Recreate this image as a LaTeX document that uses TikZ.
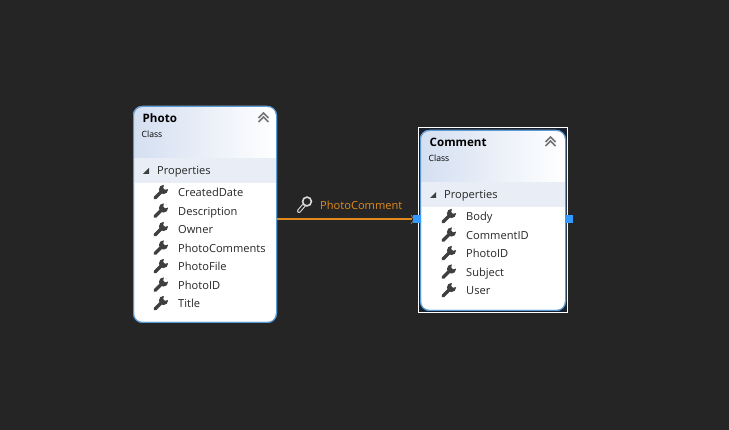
\documentclass[tikz,border=0pt]{standalone}
\usepackage{fontspec}
\setmainfont{Open Sans}
\usetikzlibrary{positioning, arrows.meta}
\definecolor{canvas}{HTML}{252526}
\definecolor{frameblue}{HTML}{5B9BD5}
\definecolor{headblue}{HTML}{D4DFF1}
\definecolor{bandgrey}{HTML}{E9EDF6}
\definecolor{toolgrey}{HTML}{3F3F3F}
\definecolor{linkorange}{HTML}{E08A1E}
\definecolor{handleblue}{HTML}{3399FF}
\definecolor{selectnavy}{HTML}{16202E}
\def\pitch{18.5}
% wrench icon, #1 = centre
\newcommand{\wrenchicon}[1]{
	\begin{scope}[shift={(#1)}]
		\draw[toolgrey, line width=3.2, line cap=round] (-5.5,5.5) -- (2,-2);
		\fill[toolgrey] (3,-3) circle (4.6);
		\fill[white] (3.8,-8.6) -- (8.8,-3.8) -- (4.6,-2.8) -- (2.8,-4.6) -- cycle;
	\end{scope}
}
% class box: #1 name, #2 left, #3 top, #4 width, #5 height, #6 title
\newcommand{\classbox}[6]{
	\node[classframe, fill=white, minimum width=#4, minimum height=#5] (#1) at (#2,#3) {};
	\begin{scope}
		\clip[rounded corners=9] (#2,#3) rectangle ++(#4,#5);
		\fill[left color=headblue, right color=white] (#2,#3) rectangle ++(#4,52);
		\fill[bandgrey] (#2,#3+52) rectangle ++(#4,25);
	\end{scope}
	\node[classframe, minimum width=#4, minimum height=#5] at (#2,#3) {};
	\node[classtitle] (#1-title) at (#2+9.5,#3+17) {#6};
	\node[classkind] (#1-kind) at (#2+8.5,#3+31.5) {Class};
	\node[rowlabel] (#1-band) at (#2+24,#3+69) {Properties};
	\fill[toolgrey] (#2+10,#3+68) -- (#2+16,#3+68) -- (#2+16,#3+62) -- cycle;
	\draw[black!55, line width=1.5] (#2+125.5,#3+12) -- (#2+130.5,#3+7) -- (#2+135.5,#3+12);
	\draw[black!55, line width=1.5] (#2+125.5,#3+16) -- (#2+130.5,#3+11) -- (#2+135.5,#3+16);
}
\begin{document}
\begin{tikzpicture}[x=1pt, y=-1pt]
	\tikzstyle{classframe}=[draw=frameblue, line width=1pt, rounded corners=9, anchor=north west, inner sep=0pt]
	\tikzstyle{classtitle}=[anchor=base west, inner sep=0pt, font=\fontsize{11.6}{14}\selectfont\bfseries, text=black]
	\tikzstyle{classkind}=[anchor=base west, inner sep=0pt, font=\fontsize{8.6}{11}\selectfont, text=black]
	\tikzstyle{rowlabel}=[anchor=base west, inner sep=0pt, font=\fontsize{11.1}{13}\selectfont, text=black!85]
	\tikzstyle{handle}=[fill=handleblue, inner sep=0pt, minimum size=8]

	\fill[canvas] (0,0) rectangle (729,430);
	\useasboundingbox (0,0) rectangle (729,430);

	% Selection frame of the second class
	\node[draw=white, fill=selectnavy, line width=1pt, anchor=north west, inner sep=0pt, minimum width=149, minimum height=185] (selection) at (418,127) {};

	% Draw the classes
	\classbox{photo}{133}{106}{143}{216}{Photo}
	\classbox{comment}{420}{130}{145}{180}{Comment}

	% Draw the property rows, \y contains the offset of the row
	\foreach \name [count=\y from 0] in {CreatedDate,Description,Owner,PhotoComments,PhotoFile,PhotoID,Title} {
		\wrenchicon{160.5,192.5+\y*\pitch}
		\node[rowlabel] (photo-\name) at (178,197+\y*\pitch) {\name};
	}
	\foreach \name [count=\y from 0] in {Body,CommentID,PhotoID,Subject,User} {
		\wrenchicon{448.5,216.5+\y*\pitch}
		\node[rowlabel] (comment-\name) at (466,221+\y*\pitch) {\name};
	}

	% Connect the two classes
	\node[handle] (left handle) at (416.5,219.5) {};
	\node[handle] (right handle) at (568.5,219.5) {};
	\coordinate (photo-east) at (276.5,219.5);
	\draw[black!45, line width=0.6pt] (411,215) -- (414,219.5) -- (411,224);
	\draw[draw=linkorange, line width=2pt] (photo-east) -- (left handle.west);

	% Annotate the link
	\node[anchor=base west, inner sep=0pt, text=linkorange, font=\fontsize{11.1}{13}\selectfont] (link label) at (320,209.5) {PhotoComment};
	\begin{scope}[shift={(304,205)}]
		\draw[black!15, line width=4, line cap=round] (-5,6) -- (1,-1);
		\draw[canvas, line width=1.8, line cap=round] (-5,6) -- (1,-1);
		\draw[black!15, fill=canvas, line width=1.6] (3,-3.5) circle (4.4);
	\end{scope}
\end{tikzpicture}
\end{document}
